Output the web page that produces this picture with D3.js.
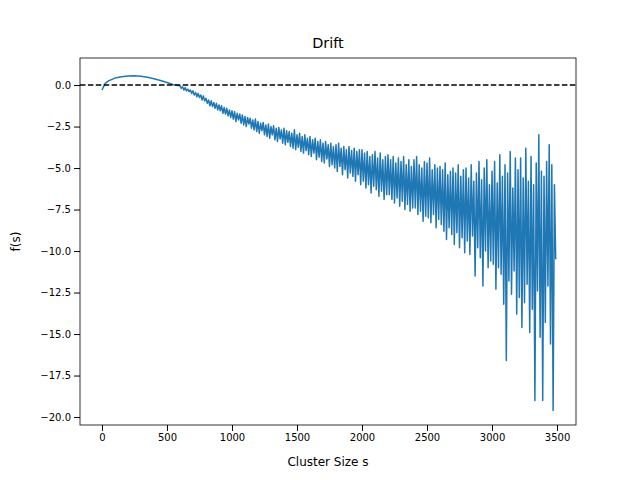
<!DOCTYPE html>
<html><head><meta charset="utf-8">
<script src="https://cdn.jsdelivr.net/npm/d3@7"></script>
<style>body{margin:0;background:#fff}text{font-family:"DejaVu Sans",sans-serif}</style>
</head><body><svg width="640" height="480"></svg>
<script>
// smooth start of the curve
var smoothSizes = [0,25,50,100,150,200,250,300,350,400,450,500,550]
var smoothDrift = [-0.3,0.1,0.25,0.42,0.5,0.55,0.56,0.53,0.47,0.38,0.27,0.15,0.02]
// noisy part, sampled every 10 from size 600
var noisyStart = 600, noisyStep = 10
var noisyDrift = [
 -0.05,-0.2,-0.1,-0.3,-0.15,-0.35,-0.25,-0.4,-0.3,-0.5,
 -0.35,-0.6,-0.45,-0.7,-0.5,-0.75,-0.6,-0.9,-0.65,-0.95,
 -0.8,-1.1,-0.9,-1.25,-0.95,-1.3,-1.05,-1.4,-1.1,-1.5,
 -1.2,-1.55,-1.25,-1.7,-1.35,-1.75,-1.4,-1.85,-1.5,-1.95,
 -1.55,-2.05,-1.6,-2.2,-1.7,-2.1,-1.75,-2.3,-1.8,-2.4,
 -1.9,-2.5,-1.95,-2.35,-2.0,-2.6,-2.1,-2.7,-2.05,-2.8,
 -2.2,-2.9,-2.3,-2.75,-2.25,-3.0,-2.4,-3.1,-2.35,-3.2,
 -2.5,-3.0,-2.45,-3.3,-2.6,-3.4,-2.55,-3.25,-2.7,-3.5,
 -2.6,-3.6,-2.75,-3.45,-2.8,-3.7,-2.9,-3.8,-2.7,-3.9,
 -3.0,-3.75,-2.9,-4.0,-3.1,-4.1,-3.0,-3.95,-3.2,-4.2,
 -3.1,-4.3,-3.3,-4.1,-3.2,-4.5,-3.4,-4.35,-3.3,-4.6,
 -3.5,-4.7,-3.4,-4.45,-3.6,-4.9,-3.5,-4.8,-3.7,-5.0,
 -3.6,-5.2,-3.5,-4.9,-3.8,-5.4,-3.7,-5.1,-3.9,-5.6,
 -3.7,-5.3,-3.95,-5.5,-3.8,-5.8,-4.0,-5.4,-3.9,-6.0,
 -3.9,-5.8,-4.1,-6.2,-4.0,-6.0,-4.3,-6.5,-4.2,-6.1,
 -4.0,-6.3,-4.4,-6.7,-4.1,-6.4,-4.5,-6.9,-4.3,-6.6,
 -4.2,-6.6,-4.5,-6.9,-4.3,-7.1,-4.7,-6.8,-4.4,-7.3,
 -4.6,-7.0,-4.3,-7.5,-4.8,-7.2,-4.5,-7.6,-4.9,-7.4,
 -4.5,-7.4,-4.3,-7.8,-4.8,-7.6,-5.0,-8.2,-4.6,-7.9,
 -4.7,-8.0,-4.4,-8.3,-5.1,-7.8,-4.8,-8.6,-5.0,-8.1,
 -4.9,-8.4,-5.1,-8.8,-4.7,-9.3,-5.4,-8.6,-5.2,-9.0,
 -5.0,-9.6,-5.3,-8.9,-4.8,-9.8,-5.5,-9.2,-5.1,-10.1,
 -5.0,-9.4,-5.6,-10.2,-4.8,-9.1,-5.8,-11.5,-5.3,-9.8,
 -4.6,-10.4,-5.7,-12.1,-5.0,-10.0,-4.5,-11.0,-6.0,-10.6,
 -5.2,-10.8,-4.6,-12.3,-5.9,-11.0,-4.2,-11.4,-5.5,-13.2,
 -4.8,-16.6,-5.3,-11.8,-4.0,-12.6,-6.2,-11.2,-4.4,-13.8,
 -5.1,-12.8,-4.4,-14.6,-5.6,-13.1,-3.8,-12.0,-5.8,-14.9,
 -4.3,-13.5,-6.0,-19.0,-4.7,-12.4,-3.0,-15.2,-5.2,-19.0,
 -5.5,-14.3,-4.6,-12.1,-3.6,-15.6,-4.8,-19.6,-6.0,-10.5]
var xTicks = [0,500,1000,1500,2000,2500,3000,3500]
var yTicks = [0,-2.5,-5,-7.5,-10,-12.5,-15,-17.5,-20]

var points = smoothSizes.map(function(s,i){return {s:s,f:smoothDrift[i]}})
noisyDrift.forEach(function(f,i){points.push({s:noisyStart+i*noisyStep,f:f})})

var margins = {left:80,right:64,top:58,bottom:55}
var width = 640-margins.left-margins.right
var height = 480-margins.top-margins.bottom

var xScale = d3.scaleLinear().domain([-169,3646]).range([0,width])
var yScale = d3.scaleLinear().domain([-20.48,1.63]).range([height,0])

var svg = d3.select("svg")
var g = svg.append("g").attr("transform","translate("+margins.left+","+margins.top+")")

g.append("g").attr("transform","translate(0,"+height+")")
    .call(d3.axisBottom(xScale).tickValues(xTicks).tickFormat(d3.format("d")).tickSizeOuter(0))
g.append("g")
    .call(d3.axisLeft(yScale).tickValues(yTicks).tickFormat(d3.format(".1f")).tickSizeOuter(0))
g.selectAll(".tick text").attr("font-size",10).attr("font-family","DejaVu Sans").attr("fill","#000")
g.selectAll(".tick line").attr("stroke","#000")

var line = d3.line().x(function(d){return xScale(d.s)}).y(function(d){return yScale(d.f)})
g.append("path").datum(points).attr("d",line)
    .attr("fill","none").attr("stroke","#1f77b4").attr("stroke-width",1.5).attr("stroke-linejoin","round")

g.append("line").attr("x1",0).attr("x2",width).attr("y1",yScale(0)).attr("y2",yScale(0))
    .attr("stroke","#000").attr("stroke-width",1.5).attr("stroke-dasharray","5.5,2.4")

g.append("rect").attr("width",width).attr("height",height).attr("fill","none").attr("stroke","#000").attr("stroke-width",0.8)
g.selectAll(".domain").remove()

svg.append("text").text("Drift").attr("x",margins.left+width/2).attr("y",48)
    .attr("text-anchor","middle").attr("font-size",14.4)
svg.append("text").text("Cluster Size s").attr("x",margins.left+width/2).attr("y",466)
    .attr("text-anchor","middle").attr("font-size",12)
svg.append("text").text("f(s)").attr("transform","translate(20,"+(margins.top+height/2)+") rotate(-90)")
    .attr("text-anchor","middle").attr("font-size",12)
</script></body></html>
